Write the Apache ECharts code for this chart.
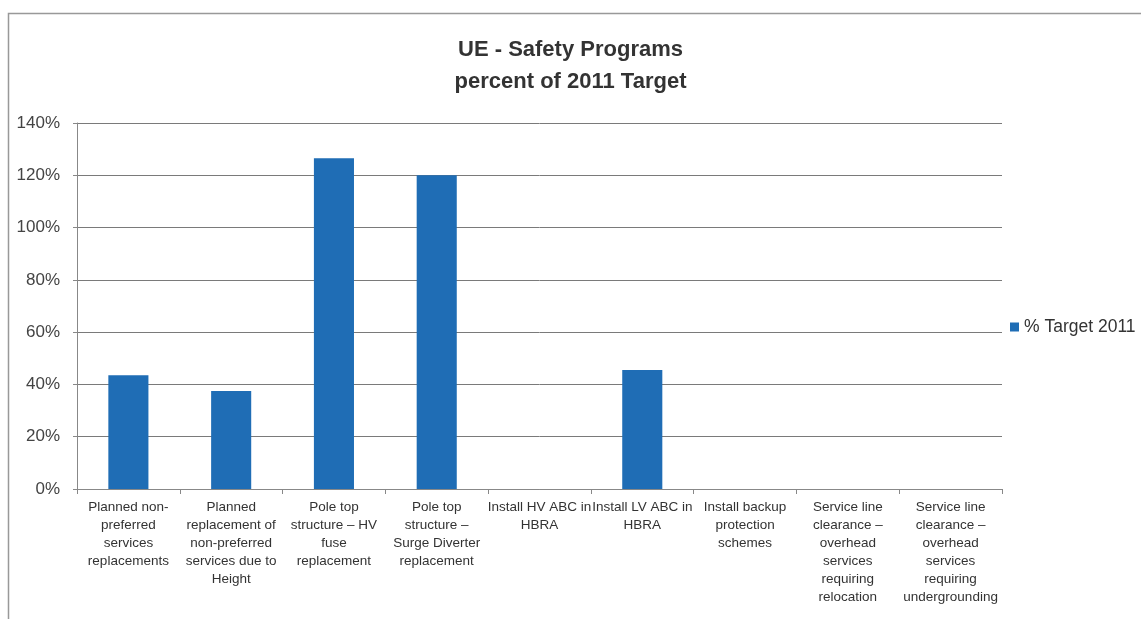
<!DOCTYPE html>
<html>
<head>
<meta charset="utf-8">
<title>UE - Safety Programs</title>
<script src="https://cdn.jsdelivr.net/npm/echarts@6/dist/echarts.min.js"></script>
<style>
    html, body { margin: 0; padding: 0; background: #fff; }
    #chart { width: 1141px; height: 619px; }
</style>
</head>
<body>
<div id="chart"></div>
<script>
    // categories as printed under the axis (line breaks as in the original)
    var categories = [
        'Planned non-\npreferred\nservices\nreplacements',
        'Planned\nreplacement of\nnon-preferred\nservices due to\nHeight',
        'Pole top\nstructure \u2013 HV\nfuse\nreplacement',
        'Pole top\nstructure \u2013\nSurge Diverter\nreplacement',
        'Install HV ABC in\nHBRA',
        'Install LV ABC in\nHBRA',
        'Install backup\nprotection\nschemes',
        'Service line\nclearance \u2013\noverhead\nservices\nrequiring\nrelocation',
        'Service line\nclearance \u2013\noverhead\nservices\nrequiring\nundergrounding'
    ];
    var target2011 = [43.5, 37.5, 126.5, 120, 0, 45.5, 0, 0, 0];
    var yTicks = [0, 20, 40, 60, 80, 100, 120, 140];

    var font = '"Liberation Sans", Arial, sans-serif';
    var chart = echarts.init(document.getElementById('chart'));
    chart.setOption({
        animation: false,
        title: {
            text: 'UE - Safety Programs\npercent of 2011 Target',
            left: 'center',
            top: 29,
            textStyle: {
                fontFamily: font,
                fontSize: 22,
                fontWeight: 'bold',
                color: '#333',
                lineHeight: 32
            }
        },
        legend: {
            orient: 'vertical',
            left: 1005,
            top: 313,
            icon: 'rect',
            itemWidth: 9,
            itemHeight: 9,
            itemGap: 4,
            textStyle: { fontFamily: font, fontSize: 17.5, color: '#333' },
            data: ['% Target 2011']
        },
        graphic: [{
            type: 'rect',
            left: 6,
            top: 11,
            shape: { width: 1200, height: 700 },
            style: { fill: 'none', stroke: '#999', lineWidth: 1.5 },
            silent: true
        }],
        grid: { left: 77, right: 139, top: 123, bottom: 130 },
        xAxis: {
            type: 'category',
            data: categories,
            axisLine: { lineStyle: { color: '#888', width: 1 } },
            axisTick: { show: true, length: 5, lineStyle: { color: '#888' } },
            axisLabel: {
                interval: 0,
                margin: 9,
                fontFamily: font,
                fontSize: 13.5,
                lineHeight: 18,
                color: '#333',
                align: 'center'
            }
        },
        yAxis: {
            type: 'value',
            min: yTicks[0],
            max: yTicks[yTicks.length - 1],
            interval: 20,
            axisLine: { show: true, lineStyle: { color: '#888', width: 1 } },
            axisTick: { show: true, length: 4, lineStyle: { color: '#888' } },
            axisLabel: {
                formatter: '{value}%',
                margin: 17,
                fontFamily: font,
                fontSize: 17,
                color: '#444'
            },
            splitLine: { show: true, lineStyle: { color: '#7a7a7a', width: 1 } }
        },
        series: [{
            name: '% Target 2011',
            type: 'bar',
            data: target2011,
            barWidth: '39%',
            itemStyle: { color: '#1f6db5' }
        }]
    });
</script>
</body>
</html>
